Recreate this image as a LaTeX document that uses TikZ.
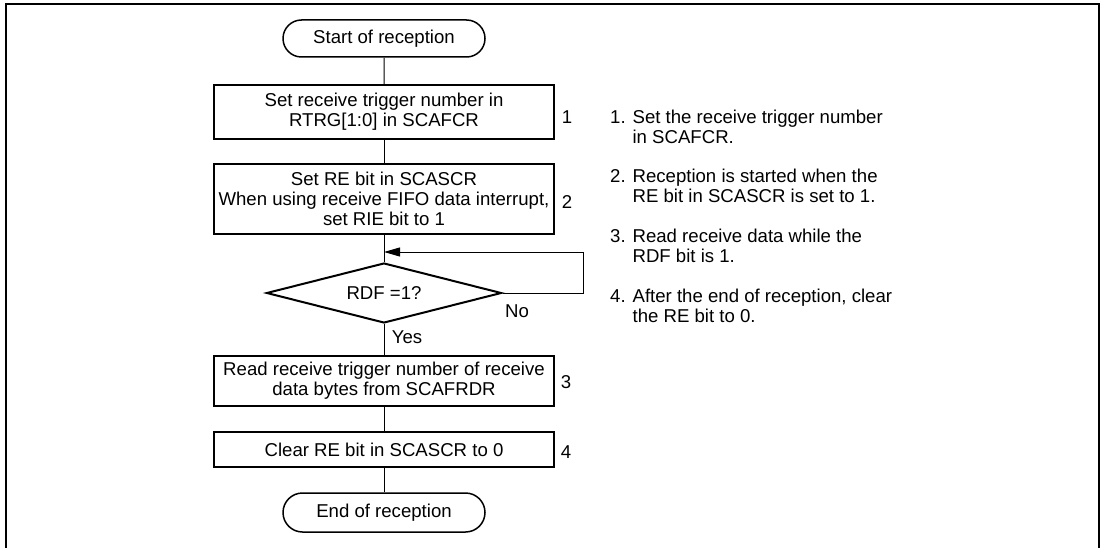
\documentclass[tikz,border=0pt]{standalone}
\usepackage{fontspec}
\setmainfont{Liberation Sans}
\usepackage{tikz}
\usetikzlibrary{positioning, arrows.meta, shapes.geometric, shapes.misc}

\begin{document}
\begin{tikzpicture}[x=1pt, y=-1pt,
    txt/.style = {font=\fontsize{18.6}{20}\selectfont},
    term/.style = {txt, draw, rounded rectangle, line width=1.5pt, minimum width=202pt, inner sep=0pt},
    proc/.style = {txt, draw, rectangle, line width=2pt, minimum width=340pt, align=center, inner sep=0pt},
    cond/.style = {txt, draw, diamond, line width=2pt, minimum width=235pt, minimum height=60pt, aspect=3.9, inner sep=0pt},
    num/.style = {txt, inner sep=0pt},
    note/.style = {txt, align=left, anchor=north west, inner sep=0pt},
    link/.style = {line width=1pt}]
    \useasboundingbox (0,0) rectangle (1102,548);
    % 外框
    \draw[line width=2pt] (6,560) -- (6,4) -- (1099,4) -- (1099,560);

    % 流程框
    \node[term, minimum height=37pt] (start) at (384,38.5) {Start of reception};
    \node[proc, minimum height=54pt] (s1) at (384,112) {Set receive trigger number in\\RTRG[1:0] in SCAFCR};
    \node[proc, minimum height=70pt] (s2) at (384,199) {Set RE bit in SCASCR\\When using receive FIFO data interrupt,\\set RIE bit to 1};
    \node[cond] (rdf) at (384,293) {RDF =1?};
    \node[proc, minimum height=50pt] (s3) at (384,380.5) {Read receive trigger number of receive\\data bytes from SCAFRDR};
    \node[proc, minimum height=35pt] (s4) at (384,449.5) {Clear RE bit in SCASCR to 0};
    \node[term, minimum height=39pt] (stop) at (384,512.5) {End of reception};

    % 步骤编号
    \node[num] (n1) at (567,117) {1};
    \node[num] (n2) at (567,202) {2};
    \node[num] (n3) at (566,382) {3};
    \node[num] (n4) at (566,452) {4};

    % 判断分支
    \coordinate (back) at (384,252);
    \coordinate (c1) at (583,293);
    \coordinate (c2) at (583,252);
    \node[num] (no) at (517,311) {No};
    \node[num] (yes) at (407,337) {Yes};

    % 连线
    \draw[link] (start) -- (s1);
    \draw[link] (s1) -- (s2);
    \draw[link] (s2) -- (rdf);
    \draw[link, -{Triangle[length=16pt, width=9pt]}] (rdf.east) -- (c1) -- (c2) -- (back);
    \draw[link] (rdf) -- (s3);
    \draw[link] (s3) -- (s4);
    \draw[link] (s4) -- (stop);

    % 说明文字
    \node[note] (t1) at (610,110) {1. Set the receive trigger number\\\hphantom{1. }in SCAFCR.};
    \node[note] (t2) at (610,168.5) {2. Reception is started when the\\\hphantom{2. }RE bit in SCASCR is set to 1.};
    \node[note] (t3) at (610,228.5) {3. Read receive data while the\\\hphantom{3. }RDF bit is 1.};
    \node[note] (t4) at (610,288.5) {4. After the end of reception, clear\\\hphantom{4. }the RE bit to 0.};
\end{tikzpicture}
\end{document}
